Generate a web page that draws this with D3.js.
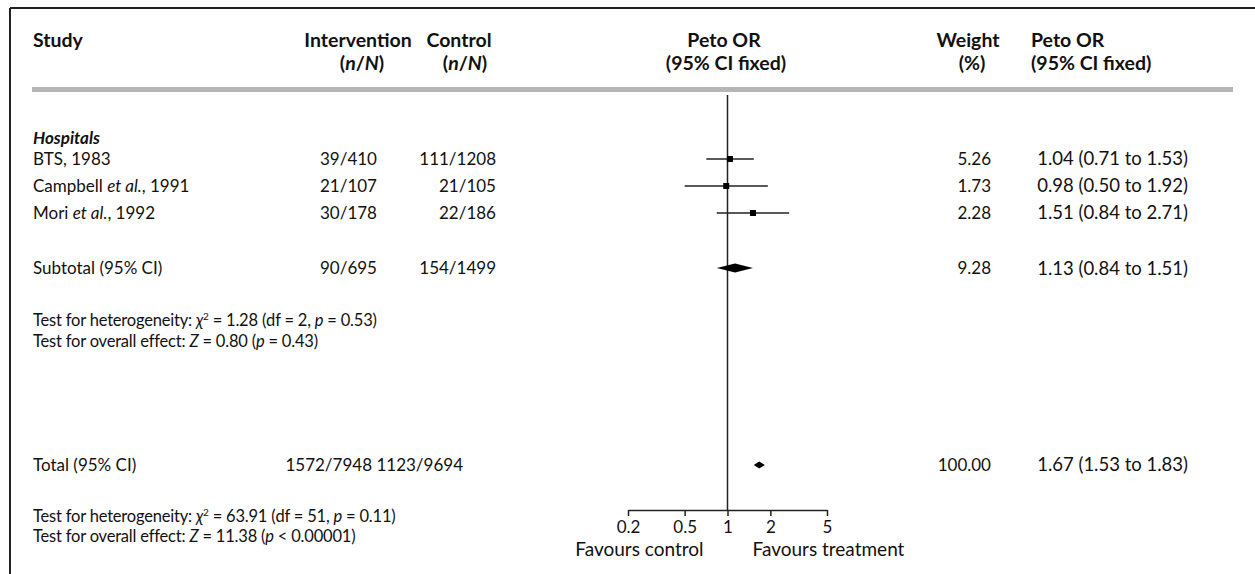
<!DOCTYPE html>
<html><head><meta charset="utf-8">
<script src="https://cdn.jsdelivr.net/npm/d3@7"></script>
<style>
body{margin:0;background:#fff}
text{font-family:Lato,"Open Sans",sans-serif;fill:#111;font-size:17px}
text.h{font-size:19.5px;font-weight:bold}
text.lab{font-size:17px}
text.test{font-size:16.5px;letter-spacing:-0.2px}
text.orv{font-size:18.5px}
text.fav{font-size:19px}
</style>
</head><body><svg id="c" width="1255" height="574"></svg>
<script>
// ---- data ----
const studies = ["BTS, 1983", "Campbell et al., 1991", "Mori et al., 1992"];
const interventionCounts = ["39/410", "21/107", "30/178"];
const controlCounts = ["111/1208", "21/105", "22/186"];
const peto = [1.04, 0.98, 1.51];
const ciLow = [0.71, 0.50, 0.84];
const ciHigh = [1.53, 1.92, 2.71];
const weights = ["5.26", "1.73", "2.28"];
const orText = ["1.04 (0.71 to 1.53)", "0.98 (0.50 to 1.92)", "1.51 (0.84 to 2.71)"];

const subtotal = ["Subtotal (95% CI)", "90/695", "154/1499", 1.13, 0.84, 1.51, "9.28", "1.13 (0.84 to 1.51)"];
const total = ["Total (95% CI)", "1572/7948", "1123/9694", 1.67, 1.53, 1.83, "100.00", "1.67 (1.53 to 1.83)"];

const tickValues = [0.2, 0.5, 1, 2, 5];
const tickLabels = ["0.2", "0.5", "1", "2", "5"];

// ---- layout ----
const svg = d3.select("#c");
const x = d3.scaleLog().domain([0.2, 5]).range([628, 827]);
const row = d3.scaleLinear().domain([0, 1]).range([159, 186]); // row units
const yStudy = [0, 1, 2].map(row);
const ySub = row(4.04), yHet1 = row(5.96), yOv1 = row(6.74), yTot = row(11.33);
const yHet2 = row(13.22), yOv2 = row(13.96), axisY = 510;

const C = {study: 33, int: 377, ctrl: 496, wt: 991, or: 1188};

function rich(sel, parts) {
  parts.forEach(p => {
    const t = sel.append("tspan").text(p[0]);
    if (p[1]) t.attr("font-style", "italic");
    if (p[2]) t.attr("baseline-shift", "super").attr("font-size", "10px");
  });
  return sel;
}
function txt(xp, y, s, anchor, cls) {
  return svg.append("text").attr("class", cls || null).attr("x", xp).attr("y", y).attr("dy", "0.35em")
    .attr("text-anchor", anchor || "start").text(s);
}

// frame
svg.append("line").attr("x1", 10).attr("x2", 1255).attr("y1", 8).attr("y2", 8).attr("stroke", "#222").attr("stroke-width", 2);
svg.append("line").attr("x1", 10).attr("x2", 10).attr("y1", 8).attr("y2", 574).attr("stroke", "#222").attr("stroke-width", 2);
svg.append("rect").attr("x", 32).attr("y", 87).attr("width", 1201).attr("height", 5).attr("fill", "#b5b5b5");

// headers
const h1 = 40, h2 = 63;
txt(C.study, h1, "Study", "start", "h");
txt(358, h1, "Intervention", "middle", "h");
rich(svg.append("text").attr("class", "h").attr("x", 362).attr("y", h2).attr("dy", "0.35em").attr("text-anchor", "middle"),
  [["("], ["n", 1], ["/"], ["N", 1], [")"]]);
txt(459, h1, "Control", "middle", "h");
rich(svg.append("text").attr("class", "h").attr("x", 465).attr("y", h2).attr("dy", "0.35em").attr("text-anchor", "middle"),
  [["("], ["n", 1], ["/"], ["N", 1], [")"]]);
txt(724, h1, "Peto OR", "middle", "h");
txt(726, h2, "(95% CI fixed)", "middle", "h");
txt(968, h1, "Weight", "middle", "h");
txt(972, h2, "(%)", "middle", "h");
txt(1031, h1, "Peto OR", "start", "h");
txt(1031, h2, "(95% CI fixed)", "start", "h");

// subgroup
rich(svg.append("text").attr("class", "lab").attr("x", C.study).attr("y", row(-0.78)).attr("dy", "0.35em").attr("font-weight", "bold"), [["Hospitals", 1]]);

// central line
svg.append("line").attr("x1", x(1)).attr("x2", x(1)).attr("y1", 95).attr("y2", axisY).attr("stroke", "#222").attr("stroke-width", 1.5);

// study rows
studies.forEach((s, i) => {
  const y = yStudy[i];
  const parts = s.split("et al.");
  const t = svg.append("text").attr("class", "lab").attr("x", C.study).attr("y", y).attr("dy", "0.35em");
  if (parts.length > 1) rich(t, [[parts[0]], ["et al.", 1], [parts[1]]]); else t.text(s);
  txt(C.int, y, interventionCounts[i], "end");
  txt(C.ctrl, y, controlCounts[i], "end");
  txt(C.wt, y, weights[i], "end");
  txt(C.or, y, orText[i], "end", "orv");
  svg.append("line").attr("x1", x(ciLow[i])).attr("x2", x(ciHigh[i])).attr("y1", y).attr("y2", y)
    .attr("stroke", "#222").attr("stroke-width", 1.5);
  svg.append("rect").attr("x", x(peto[i]) - 3).attr("y", y - 3).attr("width", 6).attr("height", 6).attr("fill", "#000");
});

function summary(d, y, h, intX, ctrlX) {
  txt(C.study, y, d[0], "start", "lab");
  txt(intX, y, d[1], "end");
  txt(ctrlX, y, d[2], "end");
  txt(C.wt, y, d[6], "end");
  txt(C.or, y, d[7], "end", "orv");
  svg.append("path").attr("d",
    `M${x(d[4])},${y}L${x(d[3])},${y - h / 2}L${x(d[5])},${y}L${x(d[3])},${y + h / 2}Z`).attr("fill", "#000");
}
summary(subtotal, ySub, 9, C.int, C.ctrl);
summary(total, yTot, 7, 372, 463);

// tests
function chiLine(y, chi, df, p) {
  rich(svg.append("text").attr("class", "test").attr("x", C.study).attr("y", y).attr("dy", "0.35em"),
    [["Test for heterogeneity: "], ["\u03C7", 1], ["2", 0, 1], [` = ${chi} (df = ${df}, `], ["p", 1], [` = ${p})`]]);
}
function zLine(y, z, pTxt) {
  rich(svg.append("text").attr("class", "test").attr("x", C.study).attr("y", y).attr("dy", "0.35em"),
    [["Test for overall effect: "], ["Z", 1], [` = ${z} (`], ["p", 1], [` ${pTxt})`]]);
}
chiLine(yHet1, "1.28", "2", "0.53");
zLine(yOv1, "0.80", "= 0.43");
chiLine(yHet2, "63.91", "51", "0.11");
zLine(yOv2, "11.38", "< 0.00001");

// axis
const ax = svg.append("g").attr("transform", `translate(0,${axisY})`)
  .call(d3.axisBottom(x).tickValues(tickValues).tickFormat((d, i) => tickLabels[i]).tickSize(6).tickSizeOuter(0).tickPadding(5));
ax.select(".domain").attr("stroke", "#222").attr("stroke-width", 1.5);
ax.selectAll(".tick line").attr("stroke", "#222").attr("stroke-width", 1.5);
ax.selectAll(".tick text").attr("font-size", "17px").attr("fill", "#111").attr("font-family", "Lato,sans-serif");

txt(x(1) - 24, 549, "Favours control", "end", "fav");
txt(x(1) + 25, 549, "Favours treatment", "start", "fav");
</script></body></html>
